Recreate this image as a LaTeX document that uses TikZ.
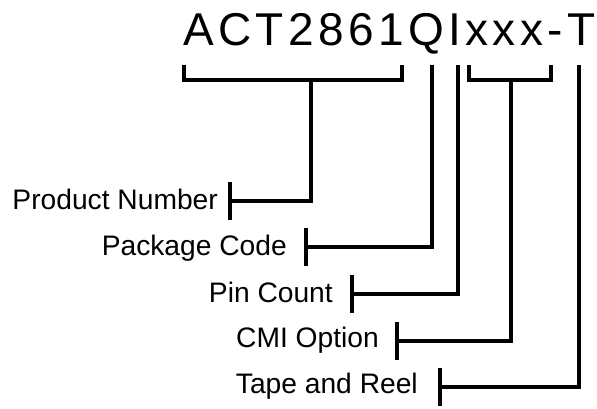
\documentclass[tikz,border=0pt]{standalone}
\usepackage{fontspec}
\setmainfont{Liberation Sans}
\begin{document}
\begin{tikzpicture}[x=1pt,y=-1pt,
  ln/.style={line width=3.2pt,line cap=butt,line join=miter},
  lbl/.style={anchor=base east,inner sep=0pt,font=\fontsize{28.2}{30}\selectfont},
  ttl/.style={anchor=base west,inner sep=0pt,font=\fontsize{46}{50}\selectfont\addfontfeature{LetterSpace=9.5}}]
\useasboundingbox (0,0) rectangle (597,408);
\node[ttl] (title) at (183,45) {ACT2861QIxxx-T};
% labels
\node[lbl] (pn) at (218,209) {Product Number};
\node[lbl] (pc) at (287,255) {Package Code};
\node[lbl] (pin) at (333,302) {Pin Count};
\node[lbl] (cmi) at (379,347) {CMI Option};
\node[lbl] (tr) at (418,393) {Tape and Reel};
% tick coordinates
\coordinate (tpn) at (230,201);
\coordinate (tpc) at (306,247);
\coordinate (tpin) at (352,294);
\coordinate (tcmi) at (397,341);
\coordinate (ttr) at (440,387);
% bracket points
\coordinate (b1l) at (184,65);
\coordinate (b1r) at (402,65);
\coordinate (s1) at (311,80);
\coordinate (q) at (432,65);
\coordinate (i) at (458,65);
\coordinate (b2l) at (469,65);
\coordinate (b2r) at (551,65);
\coordinate (s2) at (511,80);
\coordinate (t) at (579,65);
% brackets
\draw[ln] (b1l) |- (b1r |- s1) -- (b1r);
\draw[ln] (b2l) |- (b2r |- s2) -- (b2r);
% ticks
\foreach \c in {tpn,tpc,tpin,tcmi,ttr}
  \draw[ln] ([yshift=-19pt]\c) -- ([yshift=19pt]\c);
% connectors
\draw[ln] (s1) |- (tpn);
\draw[ln] (q) |- (tpc);
\draw[ln] (i) |- (tpin);
\draw[ln] (s2) |- (tcmi);
\draw[ln] (t) |- (ttr);
\end{tikzpicture}
\end{document}
